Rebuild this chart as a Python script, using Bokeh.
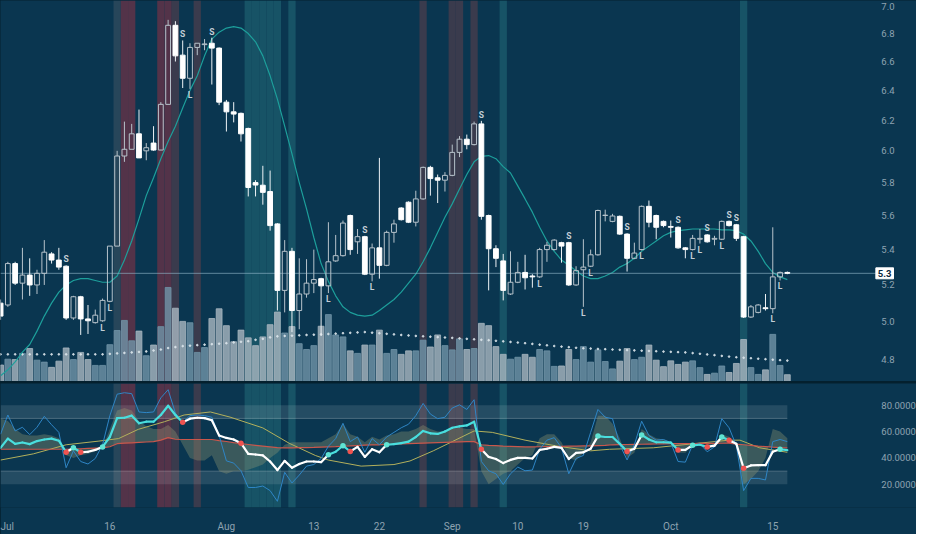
from bokeh.plotting import figure
from bokeh.models import Range1d, LinearScale, FixedTicker
from bokeh.layouts import column
from bokeh.embed import file_html
from bokeh.resources import INLINE
from bokeh.core.properties import value

# ---------------- data (daily bars, day 0 = Jul 1) ----------------
open_ = [5.10, 5.09, 5.32, 5.21, 5.255, 5.20, 5.265, 5.375, 5.34, 5.305,
         5.02, 5.135, 5.015, 4.995, 5.005, 5.11, 5.42, 5.967, 6.01, 6.11,
         6.00, 6.05, 6.005, 6.305, 6.86, 6.645, 6.483, 6.70, 6.72, 6.73,
         6.695, 6.32, 6.255, 6.245, 6.145, 5.80, 5.784, 5.745, 5.55, 5.17,
         5.39, 5.06, 5.15, 5.21, 5.235, 5.195, 5.335, 5.365, 5.60, 5.445,
         5.475, 5.26, 5.41, 5.31, 5.50, 5.645, 5.68, 5.56, 5.70, 5.895,
         5.83, 5.815, 5.845, 5.99, 6.075, 6.04, 6.175, 5.60, 5.405, 5.335,
         5.15, 5.215, 5.27, 5.25, 5.245, 5.40, 5.40, 5.44, 5.44, 5.20,
         5.285, 5.305, 5.37, 5.60, 5.565, 5.595, 5.49, 5.35, 5.40, 5.655,
         5.60, 5.565, 5.535, 5.53, 5.41, 5.40, 5.46, 5.485, 5.46, 5.46,
         5.565, 5.545, 5.475, 5.025, 5.05, 5.075, 5.07, 5.245, 5.27]
high = [5.12, 5.33, 5.33, 5.41, 5.35, 5.285, 5.455, 5.385, 5.41, 5.31,
        5.14, 5.14, 5.09, 5.065, 5.125, 5.42, 6.00, 6.19, 6.175, 6.27,
        6.05, 6.16, 6.32, 6.90, 6.89, 6.75, 6.73, 6.73, 6.76, 6.77,
        6.70, 6.335, 6.32, 6.25, 6.15, 5.815, 5.905, 5.875, 5.555, 5.455,
        5.41, 5.35, 5.345, 5.40, 5.24, 5.56, 5.485, 5.57, 5.605, 5.52,
        5.48, 5.435, 5.955, 5.51, 5.575, 5.65, 5.685, 5.75, 5.90, 5.905,
        5.85, 5.865, 6.04, 6.095, 6.105, 6.19, 6.195, 5.605, 5.425, 5.375,
        5.39, 5.33, 5.37, 5.26, 5.41, 5.445, 5.46, 5.445, 5.445, 5.305,
        5.46, 5.40, 5.635, 5.635, 5.61, 5.60, 5.495, 5.44, 5.66, 5.69,
        5.605, 5.57, 5.57, 5.535, 5.415, 5.485, 5.52, 5.49, 5.48, 5.57,
        5.57, 5.55, 5.48, 5.09, 5.095, 5.15, 5.53, 5.275, 5.275]
low = [5.01, 5.08, 5.20, 5.12, 5.14, 5.15, 5.20, 5.32, 5.285, 5.01,
       5.01, 4.93, 4.935, 4.99, 5.00, 5.105, 5.42, 5.93, 6.01, 5.955,
       5.94, 6.00, 6.005, 6.305, 6.60, 6.416, 6.41, 6.645, 6.68, 6.44,
       6.30, 6.125, 6.185, 6.06, 5.715, 5.715, 5.665, 5.51, 5.06, 5.05,
       4.945, 4.96, 5.13, 5.155, 4.925, 5.155, 5.33, 5.36, 5.37, 5.375,
       5.255, 5.22, 5.235, 5.305, 5.44, 5.57, 5.555, 5.535, 5.695, 5.72,
       5.675, 5.745, 5.84, 5.96, 6.01, 6.035, 5.575, 5.17, 5.30, 5.115,
       5.145, 5.21, 5.175, 5.185, 5.24, 5.33, 5.395, 5.325, 5.195, 5.195,
       5.08, 5.30, 5.365, 5.565, 5.56, 5.485, 5.275, 5.345, 5.395, 5.53,
       5.46, 5.53, 5.47, 5.405, 5.35, 5.395, 5.435, 5.44, 5.425, 5.455,
       5.535, 5.45, 5.02, 5.02, 5.045, 5.06, 5.045, 5.225, 5.26]
close = [5.03, 5.32, 5.21, 5.255, 5.20, 5.265, 5.385, 5.34, 5.30, 5.02,
         5.135, 5.015, 5.005, 5.035, 5.115, 5.42, 5.967, 6.01, 6.11, 5.955,
         6.02, 6.005, 6.305, 6.86, 6.64, 6.483, 6.70, 6.73, 6.725, 6.695,
         6.32, 6.255, 6.24, 6.11, 5.77, 5.785, 5.74, 5.54, 5.17, 5.39,
         5.06, 5.15, 5.21, 5.23, 5.195, 5.33, 5.365, 5.555, 5.40, 5.475,
         5.26, 5.41, 5.31, 5.50, 5.55, 5.575, 5.56, 5.70, 5.895, 5.825,
         5.815, 5.845, 5.99, 6.075, 6.04, 6.175, 5.595, 5.405, 5.35, 5.17,
         5.215, 5.27, 5.24, 5.245, 5.40, 5.425, 5.455, 5.42, 5.20, 5.28,
         5.30, 5.37, 5.63, 5.602, 5.597, 5.49, 5.35, 5.38, 5.655, 5.56,
         5.53, 5.54, 5.53, 5.41, 5.40, 5.465, 5.465, 5.445, 5.465, 5.565,
         5.54, 5.465, 5.025, 5.08, 5.09, 5.07, 5.245, 5.27, 5.265]
ma = [4.72, 4.75, 4.79, 4.84, 4.88, 4.95, 5.03, 5.10, 5.16, 5.20,
      5.225, 5.235, 5.235, 5.225, 5.215, 5.215, 5.25, 5.34, 5.45, 5.58,
      5.72, 5.83, 5.95, 6.06, 6.16, 6.28, 6.40, 6.50, 6.64, 6.76,
      6.81, 6.84, 6.85, 6.84, 6.80, 6.74, 6.64, 6.50, 6.34, 6.16,
      5.98, 5.80, 5.64, 5.47, 5.32, 5.22, 5.14, 5.08, 5.05, 5.035,
      5.03, 5.035, 5.06, 5.09, 5.12, 5.16, 5.21, 5.26, 5.33, 5.41,
      5.50, 5.59, 5.67, 5.76, 5.85, 5.93, 5.965, 5.97, 5.95, 5.90,
      5.86, 5.78, 5.70, 5.62, 5.53, 5.45, 5.39, 5.34, 5.31, 5.28,
      5.25, 5.235, 5.235, 5.25, 5.27, 5.30, 5.32, 5.35, 5.39, 5.42,
      5.45, 5.48, 5.50, 5.51, 5.515, 5.52, 5.52, 5.52, 5.52, 5.515,
      5.515, 5.51, 5.49, 5.45, 5.39, 5.32, 5.27, 5.245, 5.23]
volume = [17, 23, 22.6, 29, 34, 22, 20, 14.6, 21, 34.6,
          22.6, 30, 22.6, 16.6, 16.6, 38, 52.6, 63, 42, 52,
          26.6, 37.6, 56.6, 97, 75.6, 62, 60.6, 30, 35, 65,
          75, 57.6, 41, 53, 45, 37, 46, 58.6, 71.6, 50,
          56.6, 39, 33, 37, 57, 69, 48, 46, 31.6, 29,
          37.6, 37.6, 53, 29, 33, 28, 31.6, 31.6, 42.6, 35.6,
          48, 37, 32.6, 44, 33, 34, 60, 57.6, 36, 28,
          23, 25, 28, 25, 33, 31.6, 15.6, 16, 33, 22.6,
          36, 20, 32.6, 20.6, 13, 21, 34, 22.6, 25, 37.6,
          22, 15.3, 21.3, 17.6, 20, 21.3, 14.3, 7.3, 8.6, 16,
          9.3, 18.6, 43.3, 14.3, 7.3, 12, 48.6, 16.6, 7]
volume_ma = [28, 28, 28, 28, 28, 28, 28, 28, 28, 28,
             28, 28, 28, 28, 28, 28.5, 29, 29.5, 30, 30.5,
             31, 32, 33, 34.5, 35.5, 36.5, 37, 37.5, 38, 38.5,
             39, 39.5, 40.3, 41, 41.6, 43, 44, 45.5, 46.6, 47,
             47.3, 47.6, 48, 48.3, 48.6, 49, 49.4, 49.8, 50.2, 50.6,
             51, 50.4, 49.8, 49.2, 48.6, 48, 47.5, 47, 46.6, 46.2,
             45.8, 45.4, 45, 44.5, 44, 43.5, 43, 42.6, 42, 41.4,
             40.8, 40.2, 39.5, 38.8, 38, 37.3, 36.6, 36, 35.4, 34.8,
             34.3, 34, 33.6, 33.3, 33, 32.7, 32.4, 32.1, 31.8, 31.5,
             31.2, 30.9, 30.6, 30.3, 30, 29.3, 28.6, 27.9, 27.2, 26.4,
             25.7, 25, 24.5, 24, 23.5, 23, 22.5, 22, 21.6]

# oscillator panel
rsi = [47.7, 54.7, 50.7, 51.7, 50.5, 52.8, 54.0, 54.7, 53.1, 44.3,
       47.7, 44.3, 44.7, 46.1, 48.4, 55.9, 70.2, 70.5, 72.1, 66.3,
       67.5, 67.5, 72.6, 79.6, 72.6, 67.0, 69.8, 70.5, 70.2, 68.6,
       57.0, 55.2, 54.0, 51.2, 43.1, 42.6, 41.9, 37.3, 30.8, 37.8,
       32.6, 35.4, 37.3, 37.3, 36.8, 42.4, 44.7, 49.3, 44.9, 48.4,
       40.8, 46.6, 44.3, 50.0, 50.5, 51.2, 52.4, 55.9, 60.5, 58.7,
       58.2, 60.1, 62.9, 64.0, 64.7, 67.5, 46.6, 40.8, 39.2, 36.1,
       38.5, 40.1, 40.1, 39.6, 46.1, 47.0, 48.4, 47.7, 39.2, 43.8,
       44.3, 47.0, 56.6, 55.9, 55.9, 50.7, 44.9, 47.0, 57.5, 54.0,
       51.9, 51.9, 51.7, 46.1, 46.1, 49.6, 50.0, 48.4, 49.3, 55.9,
       53.5, 50.7, 32.2, 34.3, 34.5, 34.5, 44.7, 46.6, 45.9]
fast = [58, 72.6, 60.5, 63.3, 57.7, 63.3, 71.6, 65.2, 59.4, 32.6,
        45.4, 37.3, 35.4, 39.6, 50.0, 72.1, 88.4, 89.5, 88.8, 74.9,
        74.4, 74.9, 85.6, 91.8, 74.0, 67.0, 72.1, 72.6, 72.1, 70.9,
        57.0, 37.8, 36.1, 30.3, 17.6, 17.6, 18.7, 15.2, 7.1, 29.1,
        21.0, 27.0, 33.8, 35.0, 39.6, 48.9, 54.7, 66.3, 52.4, 55.9,
        44.3, 54.7, 50.0, 55.9, 59.4, 62.9, 65.6, 72.1, 81.4, 73.3,
        69.8, 70.9, 77.9, 80.3, 76.8, 84.2, 37.3, 30.3, 28.0, 19.9,
        28.0, 33.1, 30.3, 30.8, 46.6, 53.5, 55.4, 47.7, 28.0, 39.6,
        41.9, 59.4, 76.8, 70.9, 69.8, 50.0, 38.5, 50.0, 67.9, 57.0,
        53.5, 54.0, 51.7, 37.3, 36.8, 50.0, 50.7, 44.7, 48.4, 69.8,
        62.9, 49.3, 15.2, 24.5, 24.5, 23.3, 52.4, 54.0, 52.4]
mid = [46.6, 46.6, 46.6, 46.6, 46.6, 46.6, 46.6, 46.6, 46.6, 46.6,
       46.8, 47.0, 47.2, 47.4, 47.6, 48.5, 50.8, 51.2, 51.5, 51.8,
       52.1, 52.4, 53.5, 55.4, 54.2, 54.0, 54.0, 54.0, 54.0, 54.0,
       53.2, 52.5, 51.6, 50.8, 50.2, 49.6, 49.0, 48.4, 47.8, 47.7,
       47.7, 47.8, 47.9, 48.0, 48.2, 48.4, 48.6, 48.9, 49.1, 49.4,
       49.7, 49.9, 50.0, 50.2, 50.4, 50.6, 50.8, 51.0, 51.2, 51.4,
       51.6, 51.8, 52.0, 52.2, 52.4, 52.4, 50.0, 49.6, 49.3, 49.0,
       48.8, 48.6, 48.4, 48.4, 48.5, 48.6, 48.7, 48.8, 48.9, 49.0,
       49.1, 49.2, 49.4, 49.5, 50.0, 50.1, 50.2, 50.3, 50.4, 50.5,
       50.6, 50.7, 50.8, 50.85, 50.9, 50.95, 51.0, 51.05, 51.1, 51.15,
       51.2, 50.5, 50.0, 49.5, 49.0, 48.6, 48.2, 47.9, 47.7]
spread = [70, 68, 62, 58, 57, 57, 58, 57, 55, 42,
          40, 42, 43, 45, 48, 62, 76, 78, 76, 68,
          64, 62, 62, 65, 60, 50, 40, 38, 38, 42,
          30, 28, 30, 30, 31, 33, 35, 40, 44, 50,
          52, 52, 52, 52, 52, 55, 58, 66, 58, 56,
          52, 56, 54, 57, 58, 60, 60, 62, 65, 62,
          60, 60, 62, 63, 62, 62, 30, 20, 24, 28,
          30, 35, 40, 42, 55, 58, 58, 52, 40, 38,
          44, 52, 72, 72, 66, 55, 40, 44, 62, 58,
          55, 54, 52, 44, 44, 50, 52, 50, 50, 58,
          56, 50, 20, 24, 30, 40, 62, 60, 55]
slow_days = [0, 4.5, 9, 13.5, 16.2, 18.9, 22.5, 25.2, 28.8, 31.5, 36, 39.6, 43.2, 45,
             49.5, 54, 56.2, 59.4, 62, 65, 67.5, 72, 76.5, 81, 83.6, 89.6, 100,
             101.5, 104.2, 108]
slow_vals = [38.4, 43.1, 50, 52.8, 54.7, 61.7, 67.5, 72.6, 74.9, 71, 62.8, 51.2, 41.9, 38.4,
             33.8, 35, 37.7, 45.4, 52.4, 60.5, 59.4, 53.5, 48.9, 45.4, 46.6, 47.7, 53.5,
             53.5, 47.7, 44.3]
red_dots = [9, 11, 25, 33, 48, 66, 86, 93, 97, 100, 102]
cyan_dots = [10, 14, 45, 47, 53, 82, 88, 95, 99, 107]
s_days = [9, 25, 29, 50, 66, 78, 86, 93, 97, 100, 101]
l_days = [14, 15, 26, 45, 51, 74, 80, 81, 88, 95, 96, 99, 106, 107]
hl_days = [16, 17, 18, 22, 23, 24, 27, 34, 35, 36, 37, 38, 40, 58, 62, 63, 65, 69, 102]
hl_kind = ["g", "r", "r", "r", "r", "m", "m", "t", "t", "t", "t", "t", "t",
           "m", "m", "m", "m", "t", "t"]
bands = [(20, 30), (70, 80)]
price_ticks = [4.8, 5.0, 5.2, 5.4, 5.6, 5.8, 6.0, 6.2, 6.4, 6.6, 6.8, 7.0]
osc_ticks = [20, 40, 60, 80]
date_ticks = [0, 15, 31, 43, 52, 62, 71, 80, 92, 106]
date_labels = ["Jul", "16", "Aug", "13", "22", "Sep", "10", "19", "Oct", "15"]

# ---------------- styling ----------------
N = len(close)
days = list(range(N))
BG = "#0a3650"
FONT = "Roboto"
AXC = "#8ea3b1"
HL = {"r": "#533349", "m": "#3a3b4d", "g": "#27465a", "t": "#175366"}
PLOT_END = 119.4      # right edge of the drawing area (in days)
TAG_X = 120.15        # last-price tag position (in days)
LABEL_X = 120.9       # where the right-hand scale labels start (in days)

x_range = Range1d(-0.01, 125.73)

p = figure(width=916, height=381, x_range=x_range, y_range=Range1d(4.691, 7.044),
           y_axis_type="log", y_axis_location=None, x_axis_location=None,
           toolbar_location=None, output_backend="svg",
           min_border_left=0, min_border_top=0, min_border_bottom=0, min_border_right=0,
           background_fill_color=BG, border_fill_color=BG, outline_line_color=None)
p.grid.visible = False

# background highlights
hl_left = [d - 0.5 for d in hl_days]
hl_right = [d + 0.5 for d in hl_days]
hl_col = [HL[k] for k in hl_kind]
p.quad(left=hl_left, right=hl_right, top=p.y_range.end, bottom=p.y_range.start,
       color=hl_col, line_color=None)

# volume
p.extra_y_ranges = {"vol": Range1d(0, 393)}
p.extra_y_scales = {"vol": LinearScale()}
vol_col = ["#6f92a6" if close[i] >= open_[i] else "#a6b4be" for i in days]
p.vbar(x=days, top=volume, bottom=0, width=0.8, color=vol_col, alpha=0.82,
       y_range_name="vol")
p.scatter(x=days, y=volume_ma, size=1.7, color="#dde6ec", alpha=0.85,
          y_range_name="vol")

# moving average
p.line(days, ma, color="#1d9f9b", line_width=1.2)

# last price line
p.segment(x0=[x_range.start], x1=[TAG_X], y0=[close[-1]], y1=[close[-1]],
          line_color="#8fb4c6", line_alpha=0.65, line_width=1)

# candles
up = [i for i in days if close[i] >= open_[i]]
dn = [i for i in days if close[i] < open_[i]]
UPC = "#b7c3cb"
for idx, col in ((up, UPC), (dn, "#eef3f6")):
    bt = [max(open_[i], close[i]) for i in idx]
    bb = [min(open_[i], close[i]) for i in idx]
    p.segment(x0=idx, y0=bt, x1=idx, y1=[high[i] for i in idx], color=col, line_width=1)
    p.segment(x0=idx, y0=[low[i] for i in idx], x1=idx, y1=bb, color=col, line_width=1)
p.vbar(x=up, top=[close[i] for i in up], bottom=[open_[i] for i in up], width=0.66,
       fill_alpha=0, line_color=UPC, line_width=1)
p.vbar(x=dn, top=[open_[i] for i in dn], bottom=[close[i] for i in dn], width=0.66,
       fill_color="#ffffff", line_color="#ffffff", line_width=1)

# S / L markers
p.text(x=s_days, y=[high[d] for d in s_days], text=["S"] * len(s_days),
       text_align="center", text_baseline="bottom", y_offset=-1,
       text_font=value(FONT), text_font_size="8.5px", text_font_style="bold",
       text_color="#c3ced6")
p.text(x=l_days, y=[low[d] for d in l_days], text=["L"] * len(l_days),
       text_align="center", text_baseline="top", y_offset=1,
       text_font=value(FONT), text_font_size="8.5px", text_font_style="bold",
       text_color="#c3ced6")

# right-hand price scale
p.text(x=[LABEL_X] * len(price_ticks), y=price_ticks,
       text=[f"{t:.1f}" for t in price_ticks], text_align="left",
       text_baseline="middle", text_font=value(FONT), text_font_size="9.5px",
       text_color=AXC)
# last price tag
p.text(x=[TAG_X], y=[close[-1]], text=[f"{close[-1]:.1f}"],
       text_align="left", text_baseline="middle", text_font=value(FONT),
       text_font_size="9.5px", text_font_style="bold", text_color="#0a2a40",
       background_fill_color="#ffffff", border_line_color="#ffffff", padding=2)

# ---------------- oscillator panel ----------------
q = figure(width=916, height=151, x_range=x_range, y_range=Range1d(2.4, 96.5),
           y_axis_location=None, toolbar_location=None, output_backend="svg",
           min_border_left=0, min_border_top=0, min_border_bottom=20, min_border_right=0,
           background_fill_color=BG, border_fill_color=BG, outline_line_color=None)
q.grid.visible = False
q.xaxis.ticker = FixedTicker(ticks=date_ticks)
q.xaxis.major_label_overrides = {d: lab for d, lab in zip(date_ticks, date_labels)}
q.xaxis.major_label_text_color = AXC
q.xaxis.major_label_text_font = FONT
q.xaxis.major_label_text_font_size = "10px"
q.xaxis.axis_line_color = None
q.xaxis.major_tick_line_color = None
q.xaxis.minor_tick_line_color = None
q.xaxis.major_label_standoff = 7

q.quad(left=hl_left, right=hl_right, top=q.y_range.end, bottom=q.y_range.start,
       color=hl_col, line_color=None)
q.quad(left=[days[0]] * len(bands), right=[days[-1]] * len(bands),
       bottom=[b[0] for b in bands], top=[b[1] for b in bands],
       color="#ffffff", alpha=0.11, line_color=None)
q.segment(x0=[days[0]] * 2, x1=[days[-1]] * 2, y0=[bands[0][1], bands[1][0]],
          y1=[bands[0][1], bands[1][0]], color="#ffffff", alpha=0.22, line_width=1)

q.varea(x=days, y1=mid, y2=spread, fill_color="#9ea276", fill_alpha=0.33)
q.line(slow_days, slow_vals, color="#b3b05c", line_width=1)
q.line(days, mid, color="#c9574c", line_width=1.2)
q.line(days, fast, color="#2f86c6", line_width=1)

state = "#49dede"
seg_col = []
for i in days[:-1]:
    if i in red_dots:
        state = "#ffffff"
    elif i in cyan_dots:
        state = "#49dede"
    seg_col.append(state)
q.segment(x0=days[:-1], y0=rsi[:-1], x1=days[1:], y1=rsi[1:], color=seg_col,
          line_width=2.2, line_cap="round")
q.scatter(x=red_dots, y=[rsi[d] for d in red_dots], size=5.5, color="#ef5350",
          line_color=None)
q.scatter(x=cyan_dots, y=[rsi[d] for d in cyan_dots], size=5.5, color="#5fe3d3",
          line_color=None)

# right-hand oscillator scale
q.text(x=[LABEL_X] * len(osc_ticks), y=osc_ticks,
       text=[f"{t:.4f}" for t in osc_ticks], text_align="left",
       text_baseline="middle", text_font=value(FONT), text_font_size="9.5px",
       text_color=AXC)

layout = column(p, q, spacing=2, styles={"background-color": "#04202e"})
open("out.html", "w").write(file_html(layout, INLINE))
